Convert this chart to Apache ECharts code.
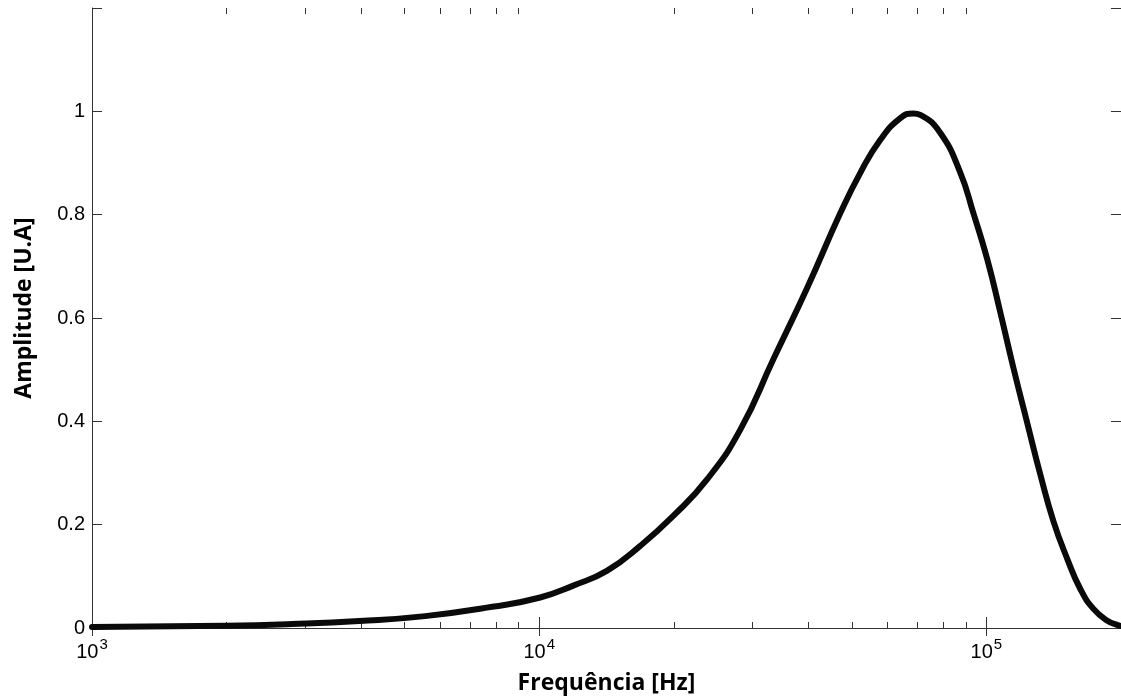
<!DOCTYPE html>
<html>
<head>
<meta charset="utf-8">
<script src="https://cdn.jsdelivr.net/npm/echarts@6/dist/echarts.min.js"></script>
<style>
html,body{margin:0;padding:0;background:#fff;}
#chart{width:1121px;height:700px;}
</style>
</head>
<body>
<div id="chart"></div>
<script>
// Frequency (Hz) and amplitude (U.A)
const freqHz = [1000, 1984, 2800, 3956, 5559, 7850, 10050, 11915, 14196, 16827, 19945, 23760, 28170, 33390, 39780, 47140, 52250, 57930, 64210, 68650, 71170, 78900, 87460, 93520, 100500, 107500, 114900, 123500, 132100, 141200, 151800, 162300, 173600, 186500, 197400, 200000];
const amplitude = [0.002, 0.0044, 0.0077, 0.0135, 0.023, 0.041, 0.059, 0.082, 0.111, 0.159, 0.217, 0.288, 0.384, 0.520, 0.659, 0.803, 0.881, 0.945, 0.987, 0.996, 0.993, 0.958, 0.881, 0.803, 0.713, 0.610, 0.504, 0.396, 0.296, 0.207, 0.133, 0.075, 0.037, 0.014, 0.005, 0.004];
const xMin = 1000, xMax = 200000;
const yTicks = [0, 0.2, 0.4, 0.6, 0.8, 1];
const minorTickFactors = [2, 3, 4, 5, 6, 7, 8, 9];
const decades = [3, 4, 5];
const xTitle = 'Frequência [Hz]';
const yTitle = 'Amplitude [U.A]';

const minorLog = [];
decades.forEach(d => minorTickFactors.forEach(m => {
  const v = Math.log10(m * Math.pow(10, d));
  if (v <= Math.log10(xMax)) minorLog.push(v);
}));

const axisColor = '#333';
const seriesData = freqHz.map((f, i) => [f, amplitude[i]]);

const chart = echarts.init(document.getElementById('chart'), null, {renderer: 'canvas'});
const majorLabel = v => {
  const lg = Math.log10(v);
  const n = Math.round(lg);
  if (Math.abs(lg - n) > 1e-6) return '';
  return '{b|10}{s|' + n + '}';
};
const minorAxis = (pos, len) => ({
  type: 'value', position: pos, min: 3, max: Math.log10(xMax),
  axisLine: {show: false}, splitLine: {show: false}, axisLabel: {show: false},
  axisTick: {show: true, inside: true, length: len, customValues: minorLog,
             lineStyle: {color: axisColor, width: 1}}
});

chart.setOption({
  animation: false,
  backgroundColor: '#fff',
  grid: {left: 92, right: 0, top: 8, bottom: 71, containLabel: false},
  xAxis: [
    {
      type: 'log', logBase: 10, min: xMin, max: xMax, position: 'bottom',
      name: xTitle, nameLocation: 'middle', nameGap: 44,
      nameTextStyle: {fontFamily: 'Open Sans', fontWeight: 'bold', fontSize: 23, color: '#000'},
      axisLine: {show: true, lineStyle: {color: axisColor, width: 1}},
      axisTick: {show: true, inside: true, length: 11, lineStyle: {color: axisColor}},
      minorTick: {show: false},
      splitLine: {show: false},
      axisLabel: {
        showMaxLabel: false, margin: 9,
        formatter: majorLabel,
        rich: {
          b: {fontFamily: 'Liberation Sans', fontSize: 20, color: '#000', lineHeight: 30},
          s: {fontFamily: 'Liberation Sans', fontSize: 15, color: '#000', verticalAlign: 'top', padding: [0, 0, 0, 1]}
        }
      }
    },
    {
      type: 'log', logBase: 10, min: xMin, max: xMax, position: 'top',
      axisLine: {show: true, lineStyle: {color: axisColor, width: 1}},
      axisTick: {show: true, inside: true, length: 8, lineStyle: {color: axisColor}},
      splitLine: {show: false}, axisLabel: {show: false}
    },
    minorAxis('bottom', 6),
    minorAxis('top', 6)
  ],
  yAxis: [
    {
      type: 'value', min: 0, max: 1.2, interval: 0.2, position: 'left',
      axisLine: {show: true, lineStyle: {color: axisColor, width: 1}},
      axisTick: {show: true, inside: true, length: 10, lineStyle: {color: axisColor}},
      splitLine: {show: false},
      axisLabel: {
        margin: 7, fontFamily: 'Liberation Sans', fontSize: 20, color: '#000',
        formatter: v => (yTicks.some(t => Math.abs(t - v) < 1e-9) ? String(+v.toFixed(1)) : '')
      }
    },
    {
      type: 'value', min: 0, max: 1.2, interval: 0.2, position: 'right',
      axisLine: {show: true, lineStyle: {color: axisColor, width: 1}},
      axisTick: {show: true, inside: true, length: 10, lineStyle: {color: axisColor}},
      splitLine: {show: false}, axisLabel: {show: false}
    }
  ],
  graphic: [{
    type: 'text', z: 10,
    x: 24, y: 308, rotation: Math.PI / 2,
    style: {text: yTitle, font: 'bold 23px "Open Sans"', fill: '#000',
            align: 'center', verticalAlign: 'middle'}
  }],
  series: [{
    type: 'line', xAxisIndex: 0, yAxisIndex: 0, data: seriesData,
    smooth: 0.5, symbol: 'none', clip: true,
    lineStyle: {color: '#0a0a0a', width: 6, cap: 'round', join: 'round'}
  }]
});
</script>
</body>
</html>
